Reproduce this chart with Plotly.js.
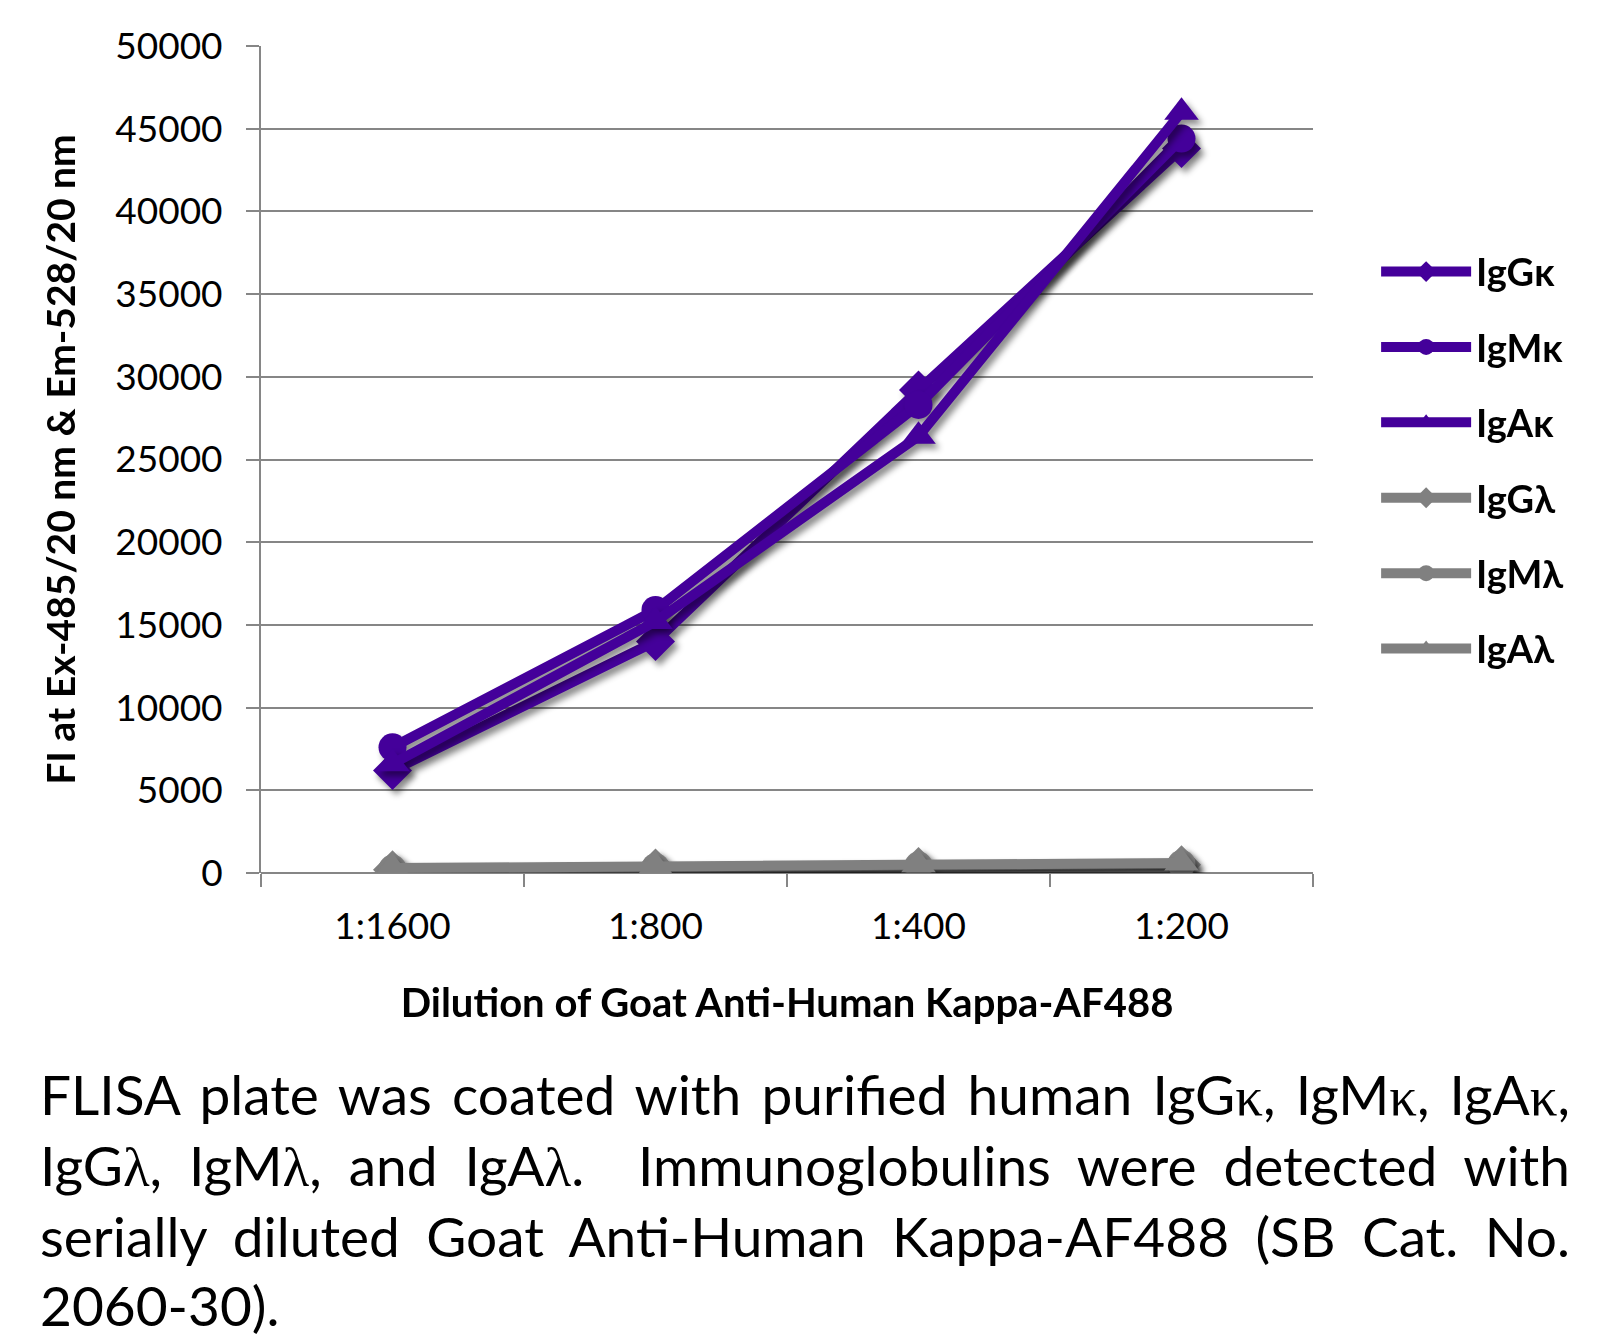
<!DOCTYPE html>
<html>
<head>
<meta charset="utf-8">
<script src="https://cdn.plot.ly/plotly-3.0.1.min.js"></script>
<style>
    body { margin: 0; background: #fff; }
    #graphPlotChart { position: absolute; left: 0; top: 0; width: 1604px; height: 1040px; }
    #caption { position: absolute; left: 40px; top: 1060px; width: 1530px; font-family: Lato, sans-serif; font-size: 55px; line-height: 69px; color: #000; }
    #caption div { text-align: justify; text-align-last: justify; }
    #caption div.last { text-align-last: left; }
    .gk { font-family: 'Liberation Serif', serif; }
    .scatterlayer .trace { filter: drop-shadow(4px 5px 3px rgba(0, 0, 0, 0.45)); }
</style>
</head>
<body>
<div id="graphPlotChart"></div>
<div id="caption">
    <div>FLISA plate was coated with purified human IgG<span class="gk">κ</span>, IgM<span class="gk">κ</span>, IgA<span class="gk">κ</span>,</div>
    <div>IgG<span class="gk">λ</span>, IgM<span class="gk">λ</span>, and IgA<span class="gk">λ</span>.&nbsp; Immunoglobulins were detected with</div>
    <div>serially diluted Goat Anti-Human Kappa-AF488 (SB Cat. No.</div>
    <div class="last">2060-30).</div>
</div>
<script>
    // dilutions on the x axis
    const dilutions = ['1:1600', '1:800', '1:400', '1:200'];

    // fluorescence readings per immunoglobulin
    const igGkappa  = [6200, 14000, 29200, 43800];
    const igMkappa  = [7600, 15900, 28300, 44400];
    const igAkappa  = [6600, 15200, 26400, 46000];
    const igGlambda = [200, 300, 400, 500];
    const igMlambda = [250, 350, 450, 550];
    const igAlambda = [300, 400, 500, 600];

    const seriesNames = ['IgGκ', 'IgMκ', 'IgAκ', 'IgGλ', 'IgMλ', 'IgAλ'];

    const purple = 'rgb(68,0,154)';
    const grey   = 'rgb(128,128,128)';

    function makeTrace(values, name, color, symbol, size) {
        return {
            x: dilutions,
            y: values,
            name: name,
            legendgroup: name,
            type: 'scatter',
            mode: 'lines+markers',
            line: { color: color, width: 10 },
            marker: { color: color, symbol: symbol, size: size }
        };
    }

    let data = [
        makeTrace(igGkappa,  seriesNames[0], purple, 'diamond', 30),
        makeTrace(igMkappa,  seriesNames[1], purple, 'circle', 28),
        makeTrace(igAkappa,  seriesNames[2], purple, 'triangle-up', 30),
        makeTrace(igGlambda, seriesNames[3], grey, 'diamond', 30),
        makeTrace(igMlambda, seriesNames[4], grey, 'circle', 28),
        makeTrace(igAlambda, seriesNames[5], grey, 'triangle-up', 30)
    ];

    let layout = {
        width: 1604,
        height: 1040,
        paper_bgcolor: '#fff',
        plot_bgcolor: '#fff',
        font: { family: 'Lato, sans-serif', color: '#000' },

        margin: {
            l: 261,
            r: 291,
            t: 46,
            b: 167
        },

        xaxis: {
            type: 'category',
            range: [-0.5, 3.5],
            tickson: 'boundaries',
            ticks: 'outside',
            ticklen: 13,
            tickwidth: 2,
            tickcolor: '#868686',
            ticklabelstandoff: 28,
            showgrid: false,
            showline: false,
            zeroline: false,
            tickfont: { size: 37 },
            title: {
                text: 'Dilution of Goat Anti-Human Kappa-AF488',
                font: { size: 40, weight: 'bold' },
                standoff: 42
            }
        },

        yaxis: {
            range: [0, 50000],
            dtick: 5000,
            tickformat: 'd',
            ticks: 'outside',
            ticklen: 13,
            tickwidth: 2,
            tickcolor: '#868686',
            ticklabelstandoff: 16,
            showgrid: true,
            gridcolor: '#868686',
            gridwidth: 2,
            zeroline: true,
            zerolinecolor: '#868686',
            zerolinewidth: 2,
            showline: true,
            linecolor: '#868686',
            linewidth: 2,
            tickfont: { size: 37 },
            title: {
                text: 'FI at Ex-485/20 nm & Em-528/20 nm',
                font: { size: 39, weight: 'bold' },
                standoff: 28
            }
        },

        showlegend: true,
        legend: {
            x: 1.06,
            xanchor: 'left',
            y: 0.765,
            yanchor: 'top',
            traceorder: 'grouped',
            tracegroupgap: 23,
            itemwidth: 90,
            font: { size: 38, weight: 'bold' },
            bgcolor: 'rgba(0,0,0,0)'
        }
    };

    Plotly.newPlot('graphPlotChart', data, layout, { displayModeBar: false });
</script>
</body>
</html>
